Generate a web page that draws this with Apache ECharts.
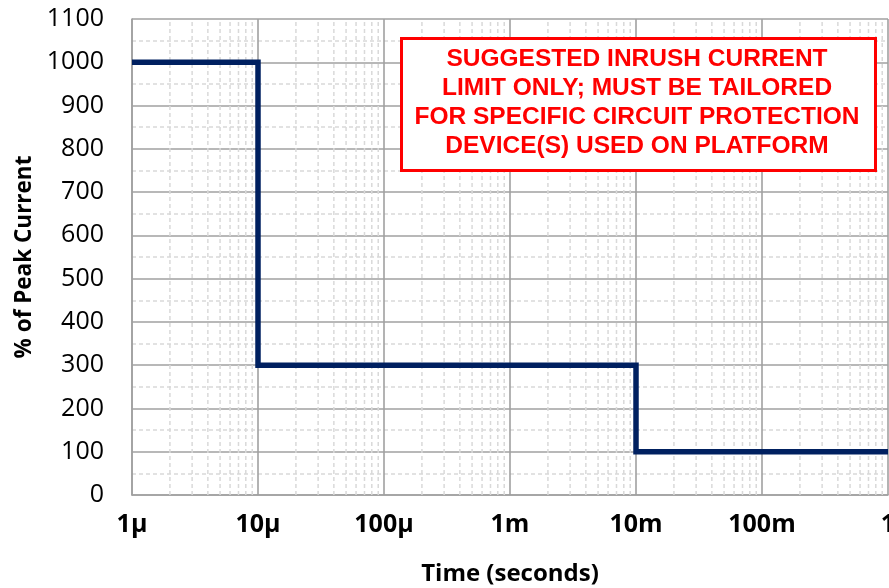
<!DOCTYPE html>
<html>
<head>
<meta charset="utf-8">
<script src="https://cdn.jsdelivr.net/npm/echarts@6/dist/echarts.min.js"></script>
<style>html,body{margin:0;padding:0;background:#fff;}#c{width:889px;height:588px;}</style>
</head>
<body>
<div id="c"></div>
<script>
// Data
var stepTimes = [1e-6, 1e-5, 1e-2, 1];          // seconds
var peakPercent = [1000, 300, 100, 100];        // % of peak current
var xTickValues = [1e-6, 1e-5, 1e-4, 1e-3, 1e-2, 1e-1, 1];
var xTickLabels = ['1\u00b5', '10\u00b5', '100\u00b5', '1m', '10m', '100m', '1'];
var noteLines = [
  'SUGGESTED INRUSH CURRENT',
  'LIMIT ONLY; MUST BE TAILORED',
  'FOR SPECIFIC CIRCUIT PROTECTION',
  'DEVICE(S) USED ON PLATFORM'
];

// minor log grid positions (2..9 within each decade)
var minorX = [];
for (var d = 0; d < 6; d++) {
  var base = xTickValues[d];
  for (var k = 2; k <= 9; k++) minorX.push(+(k * base).toPrecision(3));
}

function xLabel(v) {
  for (var i = 0; i < xTickValues.length; i++) {
    if (Math.abs(Math.log10(v) - Math.log10(xTickValues[i])) < 1e-6) return xTickLabels[i];
  }
  return '';
}

var chart = echarts.init(document.getElementById('c'));
chart.setOption({
  animation: false,
  backgroundColor: '#ffffff',
  grid: { left: 132, top: 19, right: 1, bottom: 93, containLabel: false, outerBoundsMode: 'none' },
  xAxis: {
    type: 'log',
    logBase: 10,
    min: 1e-6,
    max: 1,
    name: 'Time (seconds)',
    nameLocation: 'middle',
    nameGap: 67,
    nameTextStyle: { fontFamily: 'Open Sans', fontWeight: 'bold', fontSize: 24, color: '#000' },
    axisLine: { show: true, lineStyle: { color: '#a0a0a0', width: 1.6 } },
    axisTick: { show: false },
    axisLabel: {
      fontFamily: 'Open Sans', fontWeight: 'bold', fontSize: 25, color: '#000', margin: 17,
      formatter: xLabel
    },
    splitLine: { show: true, lineStyle: { color: '#a0a0a0', width: 1.6 } }
  },
  yAxis: {
    type: 'value',
    min: 0,
    max: 1100,
    interval: 100,
    name: '% of Peak Current',
    nameLocation: 'middle',
    nameGap: 92,
    nameTextStyle: { fontFamily: 'Open Sans', fontWeight: 'bold', fontSize: 22.5, color: '#000' },
    axisLine: { show: true, lineStyle: { color: '#a0a0a0', width: 1.6 } },
    axisTick: { show: false },
    axisLabel: {
      fontFamily: 'Open Sans', fontSize: 25, color: '#000', margin: 28,
      formatter: function (v) { return String(v); }
    },
    splitLine: { show: true, lineStyle: { color: '#a0a0a0', width: 1.6 } },
    minorTick: { show: false, splitNumber: 2 },
    minorSplitLine: { show: true, lineStyle: { color: '#d9d9d9', width: 1.5, type: [4, 3] } }
  },
  series: [
    {
      type: 'custom',
      silent: true,
      z: 1,
      data: minorX.map(function (v) { return [v, 0]; }),
      encode: { x: 0, y: 1 },
      clip: false,
      renderItem: function (params, api) {
        var xv = api.value(0);
        var p0 = api.coord([xv, 0]);
        var p1 = api.coord([xv, 1100]);
        return {
          type: 'line',
          shape: { x1: p0[0], y1: p0[1], x2: p1[0], y2: p1[1] },
          style: { stroke: '#d9d9d9', lineWidth: 1.5, lineDash: [4, 3] }
        };
      }
    },
    {
      type: 'line',
      step: 'end',
      data: stepTimes.map(function (t, i) { return [t, peakPercent[i]]; }),
      showSymbol: false,
      symbol: 'none',
      lineStyle: { color: '#002060', width: 5.5, join: 'miter', cap: 'butt' },
      z: 5
    }
  ],
  graphic: [
    {
      type: 'rect',
      left: 400,
      top: 37,
      z: 100,
      shape: { width: 474, height: 132 },
      style: { fill: '#ffffff', stroke: '#ff0000', lineWidth: 3 }
    },
    {
      type: 'text',
      x: 637,
      y: 103,
      z: 101,
      style: {
        text: noteLines.join('\n'),
        fontFamily: 'Liberation Sans',
        fontWeight: 'bold',
        fontSize: 24.5,
        lineHeight: 29,
        fill: '#ff0000',
        align: 'center',
        verticalAlign: 'middle'
      }
    }
  ]
});
</script>
</body>
</html>
